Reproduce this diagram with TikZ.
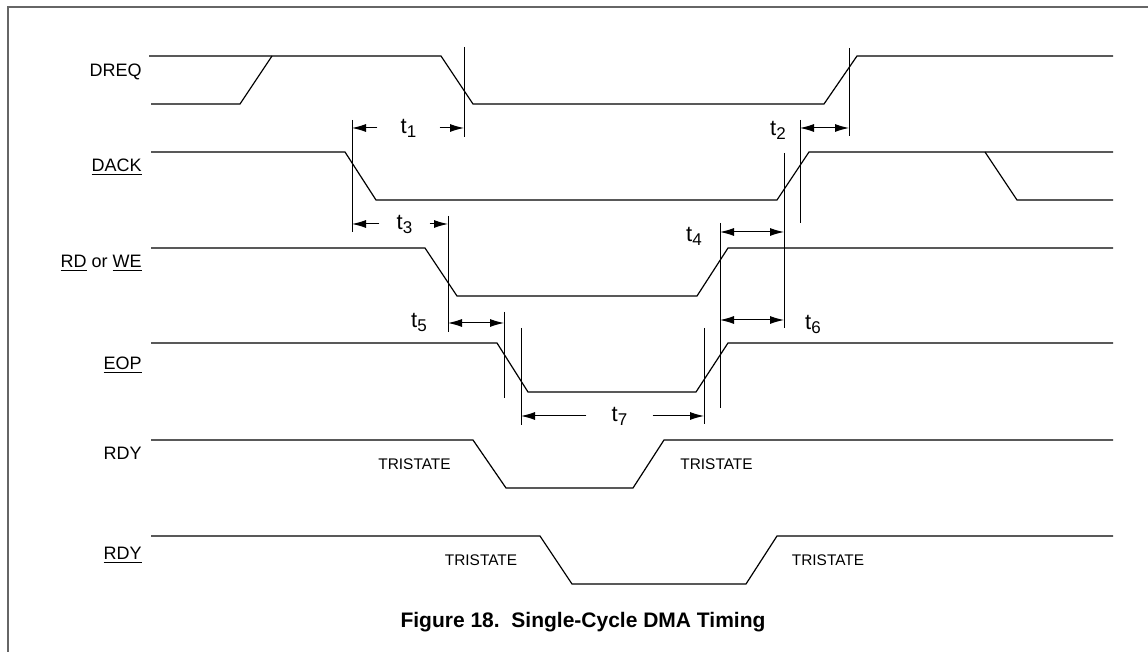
\documentclass[tikz,border=0pt]{standalone}
\usepackage{fontspec}
\setmainfont{Liberation Sans}
\usetikzlibrary{arrows.meta}

\newcommand{\tsub}[1]{t\raisebox{-2pt}{\fontsize{8.5}{9}\selectfont #1}}

\begin{document}
\begin{tikzpicture}[x=0.5pt,y=-0.5pt,>={Latex[length=7pt,width=4pt]},
  wave/.style={line width=0.6pt},
  guide/.style={line width=0.5pt},
  dim/.style={line width=0.5pt},
  frame/.style={line width=1pt,black!60},
  sig/.style={anchor=east,inner sep=0pt,font=\fontsize{9}{10}\selectfont},
  tri/.style={inner sep=0pt,font=\fontsize{7.7}{9}\selectfont},
  tlab/.style={inner ysep=0pt,inner xsep=0pt,font=\fontsize{11}{12}\selectfont}]
\useasboundingbox (0,0) rectangle (1148,652);
\draw[frame] (1148,7) -- (8,7) -- (8,652);

% signal names
\node[sig] (dreq) at (142,72) {DREQ};
\node[sig] (dack) at (142,167) {\underline{DACK}};
\node[sig] (rdwe) at (142,263) {\underline{RD} or \underline{WE}};
\node[sig] (eop) at (142,365) {\underline{EOP}};
\node[sig] (rdy) at (142,453) {RDY};
\node[sig] (nrdy) at (142,555) {\underline{RDY}};

% waveforms
\draw[wave] (149,56) -- (441,56) -- (473,104) -- (824,104) -- (857,56) -- (1113,56);
\draw[wave] (151,104) -- (240,104) -- (272,56);
\draw[wave] (151,152) -- (345,152) -- (376,200) -- (777,200) -- (809,152) -- (1113,152);
\draw[wave] (985,152) -- (1017,200) -- (1113,200);
\draw[wave] (151,248) -- (425,248) -- (457,296) -- (697,296) -- (728,248) -- (1113,248);
\draw[wave] (151,343) -- (497,343) -- (528,392) -- (696,392) -- (728,343) -- (1113,343);
\draw[wave] (151,440) -- (473,440) -- (506,488) -- (633,488) -- (664,440) -- (1113,440);
\draw[wave] (151,536) -- (540,536) -- (572,584) -- (746,584) -- (777,536) -- (1113,536);

\node[tri] (tri1) at (414.5,464) {TRISTATE};
\node[tri] (tri2) at (716.5,464) {TRISTATE};
\node[tri] (tri3) at (481,560) {TRISTATE};
\node[tri] (tri4) at (828,560) {TRISTATE};

% guide lines
\coordinate (g1) at (352,0);
\coordinate (g2) at (464,0);
\coordinate (g3) at (849,0);
\coordinate (g4) at (800,0);
\coordinate (g5) at (448,0);
\coordinate (g6) at (784,0);
\coordinate (g7) at (720,0);
\coordinate (g8) at (504,0);
\coordinate (g9) at (521,0);
\coordinate (g10) at (704,0);
\draw[guide] (352,120) -- (352,232);
\draw[guide] (464,47) -- (464,137);
\draw[guide] (849,48) -- (849,136);
\draw[guide] (800,120) -- (800,223);
\draw[guide] (448,216) -- (448,332);
\draw[guide] (784,153) -- (784,328);
\draw[guide] (720,223) -- (720,408);
\draw[guide] (504,312) -- (504,398);
\draw[guide] (521,328) -- (521,425);
\draw[guide] (704,328) -- (704,424);

% timing labels
\node[tlab,inner xsep=11.5pt] (t1) at (408.5,128) {\tsub{1}};
\node[tlab] (t2) at (778,130) {\tsub{2}};
\node[tlab,inner xsep=8.5pt] (t3) at (404.5,224) {\tsub{3}};
\node[tlab] (t4) at (694,236) {\tsub{4}};
\node[tlab] (t5) at (419,322) {\tsub{5}};
\node[tlab] (t6) at (813,324) {\tsub{6}};
\node[tlab,inner xsep=12.5pt] (t7) at (619.5,416) {\tsub{7}};

\coordinate (y2) at (0,128);
\coordinate (y4) at (0,232);
\coordinate (y5) at (0,323);
\coordinate (y6) at (0,320);

\draw[dim,->] (t1.west) -- (t1.west -| g1);
\draw[dim,->] (t1.east) -- (t1.east -| g2);
\draw[dim,<->] (g4 |- y2) -- (g3 |- y2);
\draw[dim,->] (t3.west) -- (t3.west -| g1);
\draw[dim,->] (t3.east) -- (t3.east -| g5);
\draw[dim,<->] (g7 |- y4) -- (g6 |- y4);
\draw[dim,<->] (g5 |- y5) -- (g8 |- y5);
\draw[dim,<->] (g7 |- y6) -- (g6 |- y6);
\draw[dim,->] (t7.west) -- (t7.west -| g9);
\draw[dim,->] (t7.east) -- (t7.east -| g10);

% caption
\node[font=\fontsize{10.5}{12}\selectfont\bfseries] (cap) at (583,622) {Figure 18.\ \ Single-Cycle DMA Timing};
\end{tikzpicture}
\end{document}
